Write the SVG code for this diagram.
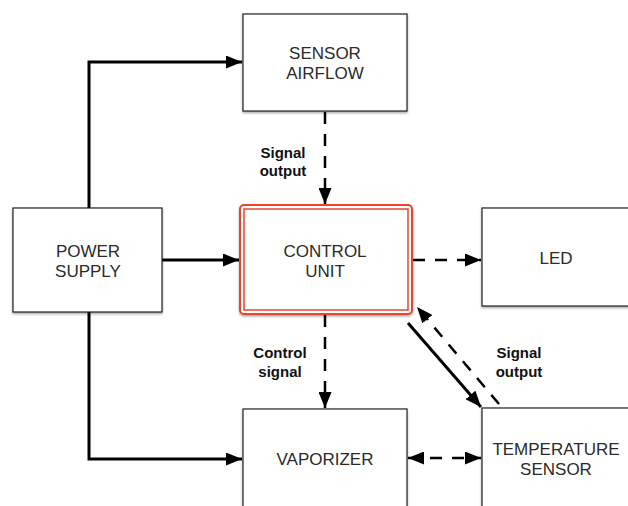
<svg xmlns="http://www.w3.org/2000/svg" width="628" height="506" viewBox="0 0 628 506">
<style>
.box{fill:#fff;stroke:#222;stroke-width:1.2}
.t{font-family:"Liberation Sans",Arial,sans-serif;font-size:17px;fill:#2a2a2a;text-anchor:middle}
.lbl{font-family:"Liberation Sans",Arial,sans-serif;font-size:15px;font-weight:bold;fill:#111;text-anchor:middle}
.solid{fill:none;stroke:#000;stroke-width:3}
.dash{fill:none;stroke:#000;stroke-width:2.5;stroke-dasharray:12 10}
</style>
<defs>
<filter id="sh" x="-10%" y="-10%" width="120%" height="130%">
<feDropShadow dx="0" dy="1.5" stdDeviation="1.2" flood-color="#000" flood-opacity="0.35"/>
</filter>
<marker id="ah" viewBox="0 0 16 13" refX="16" refY="6.5" markerWidth="16" markerHeight="13" markerUnits="userSpaceOnUse" orient="auto-start-reverse">
<path d="M0,0 L16,6.5 L0,13 Z" fill="#000"/>
</marker>
</defs>
<g id="connectors">
<path class="solid" d="M89,208 V62 H242" marker-end="url(#ah)"/>
<path class="solid" d="M162,260 H239" marker-end="url(#ah)"/>
<path class="solid" d="M89,312 V459 H242" marker-end="url(#ah)"/>
<path class="dash" d="M325,112 V204" marker-end="url(#ah)"/>
<path class="dash" d="M325,315 V408" marker-end="url(#ah)"/>
<path class="dash" d="M413,260 H481" marker-end="url(#ah)"/>
<path class="solid" d="M408,323 L481,407" marker-end="url(#ah)"/>
<path class="dash" d="M499,404 L417,307" marker-end="url(#ah)"/>
<path class="dash" d="M408,458 H481" marker-start="url(#ah)" marker-end="url(#ah)"/>
</g>
<g id="sensor-airflow">
<rect class="box" x="243" y="14" width="164" height="97" filter="url(#sh)"/>
<text class="t" x="325" y="59">SENSOR</text>
<text class="t" x="325" y="79">AIRFLOW</text>
</g>
<g id="power-supply">
<rect class="box" x="13" y="208" width="149" height="104" filter="url(#sh)"/>
<text class="t" x="88" y="257">POWER</text>
<text class="t" x="88" y="277">SUPPLY</text>
</g>
<g id="control-unit">
<rect x="240" y="205" width="172" height="109" rx="4" fill="#fff" stroke="#e8452f" stroke-width="2" filter="url(#sh)"/>
<rect x="244" y="209" width="164" height="101" fill="none" stroke="#e8452f" stroke-width="1.5"/>
<text class="t" x="325" y="257">CONTROL</text>
<text class="t" x="325" y="277">UNIT</text>
</g>
<g id="led">
<rect class="box" x="482" y="208" width="150" height="98" filter="url(#sh)"/>
<text class="t" x="556" y="264">LED</text>
</g>
<g id="vaporizer">
<rect class="box" x="243" y="409" width="164" height="110" filter="url(#sh)"/>
<text class="t" x="325" y="465">VAPORIZER</text>
</g>
<g id="temperature-sensor">
<rect class="box" x="482" y="408" width="150" height="110" filter="url(#sh)"/>
<text class="t" x="556" y="455">TEMPERATURE</text>
<text class="t" x="556" y="475">SENSOR</text>
</g>
<g id="labels">
<text class="lbl" x="283" y="158">Signal</text>
<text class="lbl" x="283" y="176">output</text>
<text class="lbl" x="280" y="358">Control</text>
<text class="lbl" x="280" y="377">signal</text>
<text class="lbl" x="519" y="358">Signal</text>
<text class="lbl" x="519" y="377">output</text>
</g>
</svg>
